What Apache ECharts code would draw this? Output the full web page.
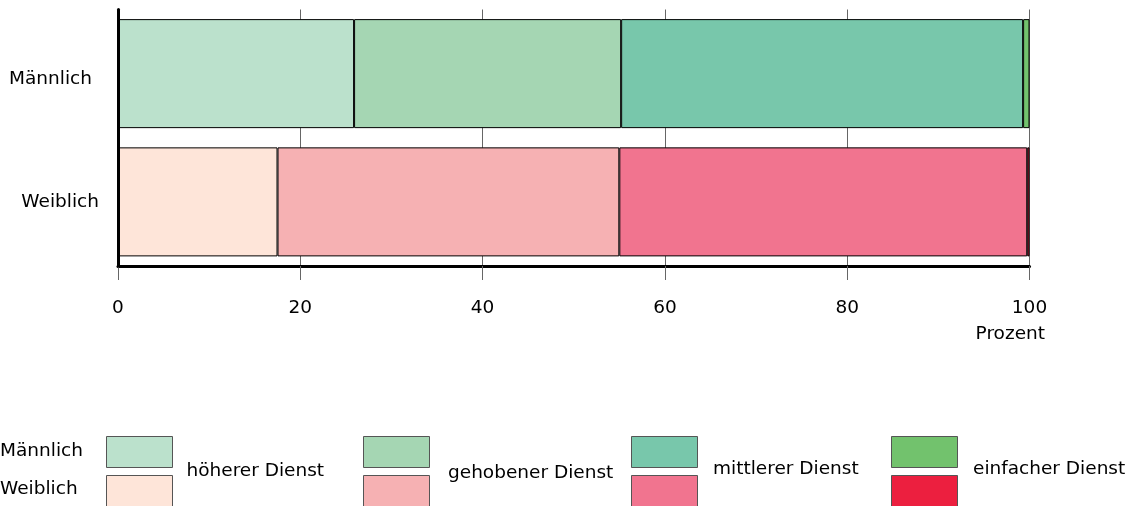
<!DOCTYPE html>
<html>
<head>
<meta charset="utf-8">
<script src="https://cdn.jsdelivr.net/npm/echarts@6/dist/echarts.min.js"></script>
<style>
html,body{margin:0;padding:0;background:#fff;}
#chart{width:1139px;height:506px;}
</style>
</head>
<body>
<div id="chart"></div>
<script>
// Data
var categories = ['Männlich', 'Weiblich'];
var seriesNames = ['höherer Dienst', 'gehobener Dienst', 'mittlerer Dienst', 'einfacher Dienst'];
var maleValues = [25.9, 29.3, 44.1, 0.7];
var femaleValues = [17.5, 37.5, 44.75, 0.25];
var maleColors = ['#BBE1CC', '#A5D6B3', '#78C7AB', '#72C26D'];
var femaleColors = ['#FEE5D9', '#F6B1B3', '#F1748F', '#EC1F3F'];
var xTicks = [0, 20, 40, 60, 80, 100];
var axisTitle = 'Prozent';

var FONT = '"DejaVu Sans", sans-serif';
var FS = 18.5;
var chart = echarts.init(document.getElementById('chart'), null, {renderer: 'canvas'});

var series = seriesNames.map(function (name, i) {
  return {
    name: name,
    type: 'bar',
    stack: 'total',
    barWidth: '85%',
    itemStyle: {borderColor: '#000', borderWidth: 1},
    emphasis: {disabled: true},
    data: [
      {value: maleValues[i], itemStyle: {color: maleColors[i]}},
      {value: femaleValues[i], itemStyle: {color: femaleColors[i]}}
    ]
  };
});

// legend drawn as graphic
var swX = [106, 363, 631, 891];
var txX = [186.5, 448, 713, 973];
var txY = [471.5, 473, 469.5, 469.5];
var graphics = [];
seriesNames.forEach(function (name, i) {
  graphics.push({type: 'rect', left: swX[i], top: 436, shape: {width: 66, height: 31},
    style: {fill: maleColors[i], stroke: '#555', lineWidth: 1}});
  graphics.push({type: 'rect', left: swX[i], top: 475, shape: {width: 66, height: 31},
    style: {fill: femaleColors[i], stroke: '#555', lineWidth: 1}});
  graphics.push({type: 'text', x: txX[i], y: txY[i],
    style: {text: name, font: FS + 'px ' + FONT, fill: '#000', textVerticalAlign: 'middle', textAlign: 'left'}});
});
graphics.push({type: 'text', x: 0, y: 451.5,
  style: {text: categories[0], font: FS + 'px ' + FONT, fill: '#000', textVerticalAlign: 'middle'}});
graphics.push({type: 'text', x: 0, y: 489,
  style: {text: categories[1], font: FS + 'px ' + FONT, fill: '#000', textVerticalAlign: 'middle'}});
graphics.push({type: 'text', x: 1045, y: 334,
  style: {text: axisTitle, font: FS + 'px ' + FONT, fill: '#000', textVerticalAlign: 'middle', textAlign: 'right'}});

chart.setOption({
  animation: false,
  grid: {left: 118, right: 109.5, top: 9.5, bottom: 240, containLabel: false},
  xAxis: {
    type: 'value', min: xTicks[0], max: xTicks[xTicks.length - 1], interval: 20,
    axisLine: {show: true, lineStyle: {color: '#000', width: 3}},
    axisTick: {show: true, length: 14, lineStyle: {color: '#666', width: 1}},
    splitLine: {show: true, lineStyle: {color: '#666', width: 1}},
    axisLabel: {fontSize: FS, color: '#000', margin: 33, fontFamily: FONT}
  },
  yAxis: {
    type: 'category', data: categories, inverse: true, z: 3,
    axisLine: {show: true, lineStyle: {color: '#000', width: 3}},
    axisTick: {show: false},
    axisLabel: {
      color: '#000', margin: 19,
      formatter: function (v, idx) { return idx === 0 ? '{m|' + v + '}' : '{w|' + v + '}'; },
      rich: {
        m: {fontSize: FS, fontFamily: FONT, color: '#000', padding: [12, 7, 0, 0]},
        w: {fontSize: FS, fontFamily: FONT, color: '#000'}
      }
    }
  },
  graphic: graphics,
  series: series
});
</script>
</body>
</html>
